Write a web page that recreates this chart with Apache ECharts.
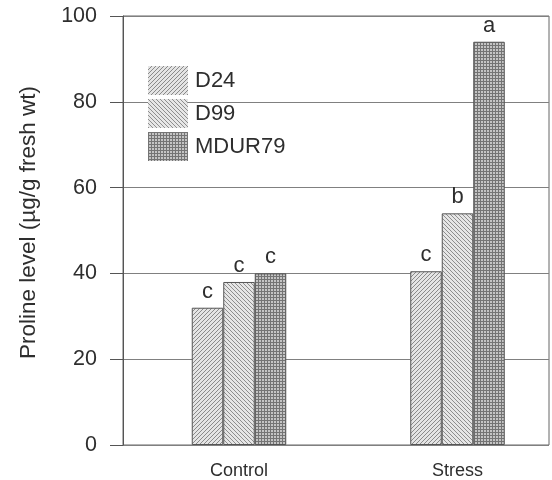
<!DOCTYPE html>
<html>
<head>
<meta charset="utf-8">
<script src="https://cdn.jsdelivr.net/npm/echarts@6/dist/echarts.min.js"></script>
<style>
  html, body { margin: 0; padding: 0; background: #fff; }
  #chart { width: 552px; height: 480px; }
</style>
</head>
<body>
<div id="chart"></div>
<script>
// Proline content per line, control vs. stress
const categories = ['Control', 'Stress'];
const seriesNames = ['D24', 'D99', 'MDUR79'];
const valuesD24 = [32, 40.5];
const valuesD99 = [38, 54];
const valuesMDUR79 = [40, 94];
const lettersD24 = ['c', 'c'];
const lettersD99 = ['c', 'b'];
const lettersMDUR79 = ['c', 'a'];
const yTicks = [0, 20, 40, 60, 80, 100];

// Small tiled fills for the hatched bars
function makeTile(size, bg, fg, isFg) {
  const c = document.createElement('canvas');
  c.width = size; c.height = size;
  const ctx = c.getContext('2d');
  ctx.fillStyle = bg;
  ctx.fillRect(0, 0, size, size);
  ctx.fillStyle = fg;
  for (let x = 0; x < size; x++) {
    for (let y = 0; y < size; y++) {
      if (isFg(x, y, size)) ctx.fillRect(x, y, 1, 1);
    }
  }
  return c;
}
const hatchUp = makeTile(4, '#e4e4e4', '#8a8a8a', (x, y, s) => x + y === s - 1);
const hatchDown = makeTile(4, '#e6e6e6', '#8e8e8e', (x, y) => x === y);
const dots = makeTile(3, '#747474', '#c4c4c4', (x, y) => x > 0 && y > 0);

const fills = [
  { image: hatchUp, repeat: 'repeat' },
  { image: hatchDown, repeat: 'repeat' },
  { image: dots, repeat: 'repeat' }
];
const valueSets = [valuesD24, valuesD99, valuesMDUR79];
const letterSets = [lettersD24, lettersD99, lettersMDUR79];

const textColor = '#2e2e2e';
const fontFamily = '"Liberation Sans", Arial, sans-serif';

const chart = echarts.init(document.getElementById('chart'), null, { renderer: 'canvas' });

const option = {
  backgroundColor: '#ffffff',
  animation: false,
  textStyle: { fontFamily: fontFamily, color: textColor },
  legend: {
    orient: 'vertical',
    left: 148,
    top: 66,
    padding: 0,
    itemWidth: 40,
    itemHeight: 29,
    itemGap: 4,
    icon: 'rect',
    data: seriesNames,
    itemStyle: { borderWidth: 0 },
    textStyle: { fontSize: 22, color: textColor, fontFamily: fontFamily, padding: [0, 0, 0, 2] }
  },
  grid: [
    // frame with value axis, gridlines and border
    { left: 123, top: 16, width: 426, height: 429, show: true, borderColor: '#666', borderWidth: 1, backgroundColor: 'transparent', outerBoundsMode: 'none' },
    // grid holding the grouped bars
    { left: 129.75, top: 16, width: 437, height: 429, outerBoundsMode: 'none' }
  ],
  xAxis: [
    { gridIndex: 0, type: 'value', min: 0, max: 1, show: false },
    {
      gridIndex: 1,
      type: 'category',
      data: categories,
      axisLine: { show: false },
      axisTick: { show: false },
      axisLabel: { fontSize: 18, color: textColor, margin: 17, fontFamily: fontFamily }
    }
  ],
  yAxis: [
    {
      gridIndex: 0,
      type: 'value',
      min: yTicks[0],
      max: yTicks[yTicks.length - 1],
      interval: yTicks[1] - yTicks[0],
      name: 'Proline level (\u00b5g/g fresh wt)',
      nameLocation: 'middle',
      nameGap: 83,
      nameRotate: 90,
      nameTextStyle: { fontSize: 22.5, color: textColor, fontFamily: fontFamily, padding: [0, 0, 0, 16] },
      axisLine: { show: true, lineStyle: { color: '#555', width: 1 } },
      axisTick: { show: true, inside: false, length: 13, lineStyle: { color: '#555', width: 1 } },
      axisLabel: { fontSize: 21.5, color: textColor, margin: 26, fontFamily: fontFamily },
      splitLine: { show: true, lineStyle: { color: '#808080', width: 1 } }
    },
    { gridIndex: 1, type: 'value', min: 0, max: 100, show: false }
  ],
  series: seriesNames.map((name, i) => ({
    name: name,
    type: 'bar',
    xAxisIndex: 1,
    yAxisIndex: 1,
    barWidth: 31.5,
    barGap: '0%',
    data: valueSets[i],
    itemStyle: { color: fills[i], borderColor: '#555', borderWidth: 1 },
    label: {
      show: true,
      position: 'top',
      distance: 5,
      fontSize: 22,
      color: textColor,
      fontFamily: fontFamily,
      formatter: (p) => letterSets[i][p.dataIndex]
    }
  }))
};

chart.setOption(option);
</script>
</body>
</html>
